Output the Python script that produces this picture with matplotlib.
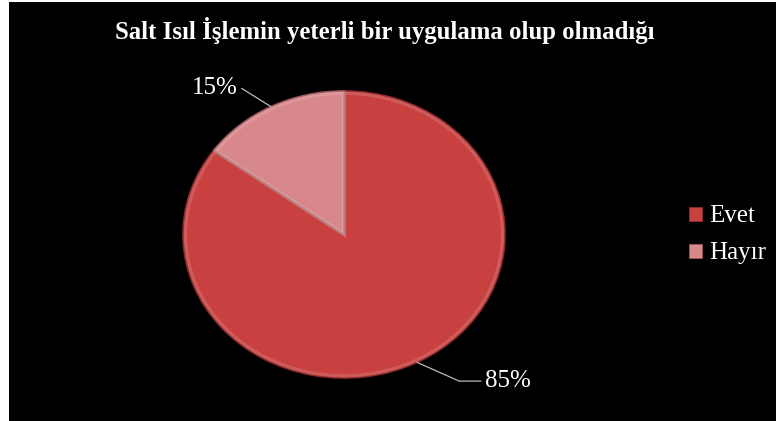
import numpy as np
import matplotlib.pyplot as plt
from matplotlib.patches import Rectangle

### chart data
labels = ['Evet', 'Hayır']
values = [85, 15]
colors = ['#C8403F', '#D8878B']
edge_colors = ['#8E2A2A', '#9E5A5E']
title = 'Salt Isıl İşlemin yeterli bir uygulama olup olmadığı'

plt.rcParams['font.family'] = ['Liberation Serif', 'DejaVu Serif']

fig = plt.figure(figsize=(7.76, 4.21), dpi=100)
fig.patch.set_facecolor('white')
# black panel with the thin white strip left and top
fig.add_artist(Rectangle((9 / 776, 0), 1, 1 - 2 / 421, transform=fig.transFigure,
                         facecolor='black', edgecolor='none', zorder=0))

ax = fig.add_axes([183 / 776, 43 / 421, 322 / 776, 287 / 421])
ax.set_facecolor('none')
wedges, _ = ax.pie(values, colors=colors, startangle=90, counterclock=False,
                   wedgeprops=dict(linewidth=1.2))
for w, ec in zip(wedges, edge_colors):
    w.set_edgecolor(ec)
# light bevel rim just inside each slice
ax.pie(values, colors=['none', 'none'], startangle=90, counterclock=False,
       radius=0.985, wedgeprops=dict(linewidth=2.5, edgecolor=(1, 1, 1, 0.14)))
ax.set_aspect('auto')
ax.set_xlim(-1, 1)
ax.set_ylim(-1, 1)

### percentage labels with leader lines
offsets = {'Evet': ((49, -13.5), 'left', -24), 'Hayır': ((-24, 13.5), 'right', 148)}
for w, lab, v in zip(wedges, labels, values):
    ang = np.deg2rad((w.theta1 + w.theta2) / 2)
    xy = (np.cos(ang), np.sin(ang))
    off, ha, angB = offsets[lab]
    ax.annotate('%d%%' % v, xy=xy, xytext=off, textcoords='offset points',
                ha=ha, va='center', color='white', fontsize=18,
                arrowprops=dict(arrowstyle='-', color='#BBBBBB', lw=0.9,
                                shrinkA=1, shrinkB=0,
                                connectionstyle='angle,angleA=0,angleB=%d,rad=0' % angB))

fig.text(385 / 776, 1 - 31 / 421, title, ha='center', va='center',
         color='white', fontsize=17.8, fontweight='bold')

handles = [Rectangle((0, 0), 1, 1, facecolor=c, edgecolor=ec, lw=0.6)
           for c, ec in zip(colors, edge_colors)]
leg = fig.legend(handles, labels, loc='center left',
                 bbox_to_anchor=(689 / 776, 1 - 235 / 421),
                 frameon=False, fontsize=18, labelcolor='white',
                 handlelength=0.5, handleheight=0.5, handletextpad=0.3,
                 labelspacing=0.6, borderpad=0, borderaxespad=0)

fig.savefig('out.png', dpi=100, facecolor=fig.get_facecolor())
